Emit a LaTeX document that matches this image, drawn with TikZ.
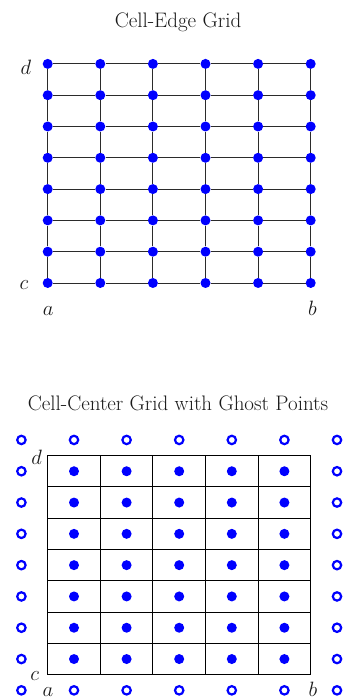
\documentclass[tikz,border=0pt]{standalone}
\usepackage{tikz}
\usetikzlibrary{calc}
\definecolor{ptblue}{HTML}{0000FF}
\definecolor{gridgray}{HTML}{2B2B2B}
\definecolor{txtgray}{HTML}{1A1A1A}

\begin{document}
\begin{tikzpicture}[x=1pt, y=1pt,
  edgept/.style={circle, fill=ptblue, inner sep=0pt, minimum size=10pt},
  centpt/.style={circle, fill=ptblue, inner sep=0pt, minimum size=10pt},
  ghostpt/.style={circle, draw=ptblue, line width=2.2pt, inner sep=0pt,
    minimum size=8.4pt},
  gridln/.style={draw=gridgray, line width=0.9pt},
  ttl/.style={font=\fontsize{21}{25}\selectfont, text=txtgray, anchor=base,
    inner sep=0pt},
  lbl/.style={font=\fontsize{22}{26}\selectfont, text=txtgray, anchor=base,
    inner sep=0pt}]
\useasboundingbox (0,0) rectangle (352,700);
% cell-edge grid
\node[ttl] (ttop) at (178,672.5) {Cell-Edge Grid};
\foreach \i in {0,...,5}
  \foreach \j in {0,...,7}
    \node[edgept] (e-\i-\j) at ({47.7+52.6*\i},{417+31.3*\j}) {};
\foreach \i [count=\ii] in {0,...,4}
  \foreach \j in {0,...,7}
    \draw[gridln] (e-\i-\j) -- (e-\ii-\j);
\foreach \i in {0,...,5}
  \foreach \j [count=\jj] in {0,...,6}
    \draw[gridln] (e-\i-\j) -- (e-\i-\jj);
\node[lbl] (td) at (26,625) {$d$};
\node[lbl] (tc) at (24,410) {$c$};
\node[lbl] (ta) at (48.3,384.5) {$a$};
\node[lbl] (tb) at (312.5,384) {$b$};
% cell-center grid with ghost points
\node[ttl] (tbot) at (178,289.3) {Cell-Center Grid with Ghost Points};
\foreach \i in {0,...,5}
  \foreach \j in {0,...,7}
    \coordinate (g-\i-\j) at ({47.7+52.6*\i},{25.3+31.3*\j});
\foreach \j in {0,...,7}
  \draw[gridln, draw=black, line cap=rect] (g-0-\j) -- (g-5-\j);
\foreach \i in {0,...,5}
  \draw[gridln, draw=black, line cap=rect] (g-\i-0) -- (g-\i-7);
\foreach \i in {0,...,4}
  \foreach \j in {0,...,6}
    \node[centpt] (m-\i-\j) at ({74+52.6*\i},{40.95+31.3*\j}) {};
% ghost points round the box
\foreach \x [count=\k] in {-1,...,5} {
  \node[ghostpt] (gb-\k) at ({74+52.6*\x},9.65) {};
  \node[ghostpt] (gt-\k) at ({74+52.6*\x},260.05) {};
}
\foreach \j in {0,...,6} {
  \node[ghostpt] (gl-\j) at (21.4,{40.95+31.3*\j}) {};
  \node[ghostpt] (gr-\j) at (337,{40.95+31.3*\j}) {};
}
\node[lbl] (bd) at (36.7,235) {$d$};
\node[lbl] (bc) at (34.7,19) {$c$};
\node[lbl] (ba) at (48,3.5) {$a$};
\node[lbl] (bb) at (313,3.5) {$b$};
\end{tikzpicture}
\end{document}
